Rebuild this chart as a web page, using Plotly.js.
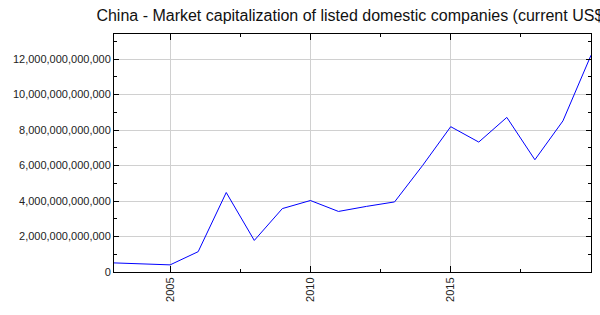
<!DOCTYPE html>
<html>
<head>
<meta charset="utf-8">
<script src="https://cdn.plot.ly/plotly-3.0.1.min.js"></script>
<style>html,body{margin:0;padding:0;background:#fff}#chart{width:600px;height:315px}</style>
</head>
<body>
<div id="chart"></div>
<script>
const chartTitle = "China - Market capitalization of listed domestic companies (current US$)";
const years = [2003, 2004, 2005, 2006, 2007, 2008, 2009, 2010, 2011, 2012, 2013, 2014, 2015, 2016, 2017, 2018, 2019, 2020];
const marketCap = [0.513e12, 0.448e12, 0.402e12, 1.146e12, 4.479e12, 1.779e12, 3.573e12, 4.028e12, 3.412e12, 3.697e12, 3.949e12, 6.005e12, 8.188e12, 7.321e12, 8.711e12, 6.325e12, 8.515e12, 12.214e12];
const xTicks = [2005, 2010, 2015];
const yTicks = [0, 2e12, 4e12, 6e12, 8e12, 10e12, 12e12];

const font = "Liberation Sans, Arial, sans-serif";
Plotly.newPlot("chart", [{
  x: years, y: marketCap, type: "scatter", mode: "lines",
  line: {color: "#0000ff", width: 1}, hoverinfo: "skip"
}], {
  width: 600, height: 315,
  margin: {l: 114, r: 9, t: 34, b: 43, pad: 0},
  paper_bgcolor: "#fff", plot_bgcolor: "#fff",
  showlegend: false,
  font: {family: font, size: 11, color: "#222"},
  title: {text: chartTitle, font: {family: font, size: 16, color: "#111"}, x: 0.5, xref: "paper", xanchor: "center", y: 1, yref: "container", yanchor: "top", pad: {t: 10}},
  xaxis: {
    range: [2003, 2020], tickvals: xTicks, ticktext: xTicks.map(String), tickangle: -90,
    showgrid: true, gridcolor: "#d0d0d0", gridwidth: 1, zeroline: false,
    showline: true, linecolor: "#000", linewidth: 1, mirror: "allticks",
    ticks: "inside", ticklen: 6, tickcolor: "#000",
    minor: {dtick: 2.5, tick0: 2005, ticks: "inside", ticklen: 3, tickcolor: "#000", showgrid: false},
    tickfont: {family: font, size: 11, color: "#222"}
  },
  yaxis: {
    range: [0, 1.341e13], tickvals: yTicks, ticktext: yTicks.map(v => d3format(v)),
    showgrid: true, gridcolor: "#d0d0d0", gridwidth: 1, zeroline: false,
    showline: true, linecolor: "#000", linewidth: 1, mirror: "allticks",
    ticks: "inside", ticklen: 5, tickcolor: "#000",
    minor: {dtick: 1e12, tick0: 0, ticks: "inside", ticklen: 3, tickcolor: "#000", showgrid: false},
    tickfont: {family: font, size: 11, color: "#222"}
  }
}, {staticPlot: true});

function d3format(v) {
  return Math.round(v).toString().replace(/\B(?=(\d{3})+(?!\d))/g, ",");
}
</script>
</body>
</html>
